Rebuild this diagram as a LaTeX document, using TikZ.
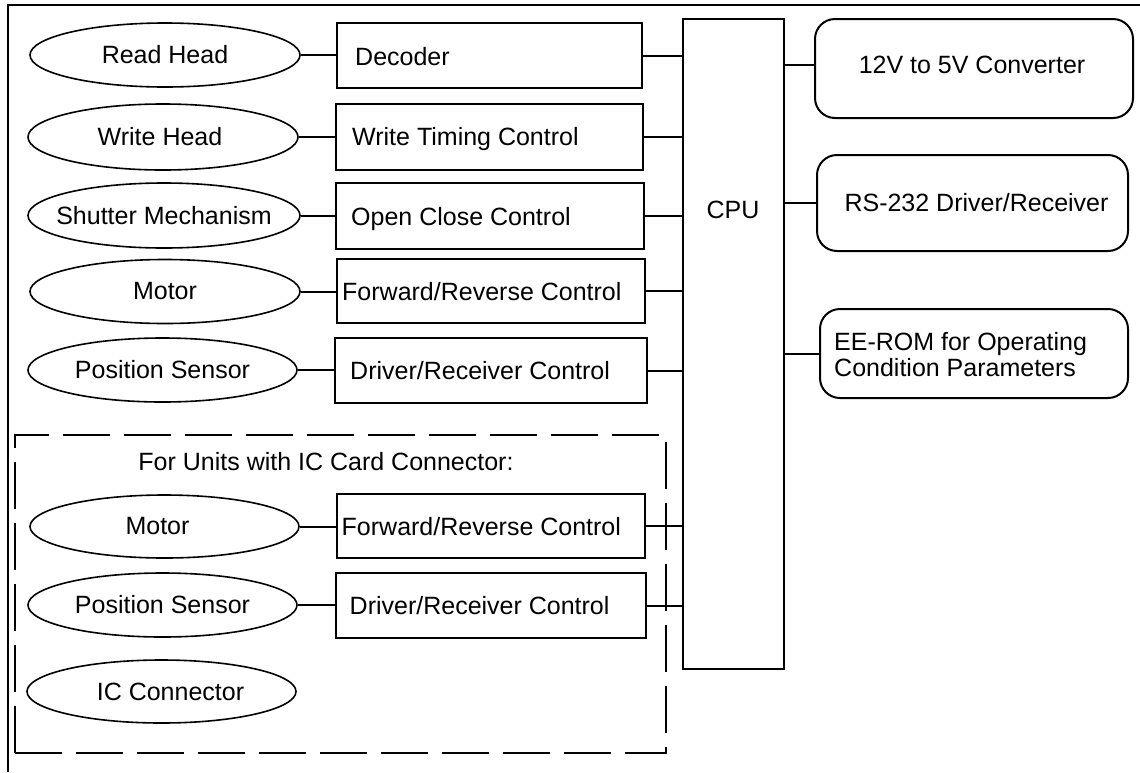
\documentclass[tikz,border=0pt]{standalone}
\usepackage{fontspec}
\setmainfont{Liberation Sans}
\usetikzlibrary{shapes.geometric}
\begin{document}
\begin{tikzpicture}[x=1pt,y=-1pt,
  every node/.style={font=\fontsize{25}{26}\selectfont},
  oval/.style={draw, ellipse, line width=1.6pt, inner sep=0pt, minimum width=270pt, minimum height=64pt},
  blk/.style={draw, rectangle, line width=2.2pt, inner sep=0pt},
  rblk/.style={draw, rectangle, rounded corners=20pt, line width=2pt, inner sep=0pt},
  lbl/.style={inner sep=0pt, anchor=base west},
  ctr/.style={inner sep=0pt},
  wire/.style={line width=2pt},
  grpbox/.style={draw, rectangle, line width=1.2pt, dash pattern=on 47pt off 14pt, inner sep=0pt},
]
\useasboundingbox (0,0) rectangle (1140,772);

% outer frame (top and left only)
\draw[line width=2.7pt] (8,772) -- (8,5) -- (1140,5);

% ellipses
\node[oval] (rh) at (165,55) {\makebox[0pt]{Read Head}};
\node[oval, minimum height=66pt] (wh) at (163,137) {\makebox[0pt]{\hspace*{-6pt}Write Head}};
\node[oval, minimum width=272pt, minimum height=65pt] (sm) at (164,215.5) {\makebox[0pt]{Shutter Mechanism}};
\node[oval] (mo) at (165,291.5) {\makebox[0pt]{Motor}};
\node[oval, minimum width=269pt] (ps) at (162.5,370) {\makebox[0pt]{Position Sensor}};
\node[oval, minimum width=269pt, minimum height=63pt] (mo2) at (164.5,526.5) {\makebox[0pt]{\hspace*{-14pt}Motor}};
\node[oval, minimum width=269pt] (ps2) at (162.5,605) {\makebox[0pt]{Position Sensor}};
\node[oval, minimum width=269pt, minimum height=63pt] (ic) at (161.5,691.5) {\makebox[0pt]{\hspace*{18pt}IC Connector}};

% control boxes
\node[blk, minimum width=305pt, minimum height=65pt] (dec) at (489.5,55.5) {};
\node[blk, minimum width=307pt, minimum height=66pt] (wtc) at (489.5,137) {};
\node[blk, minimum width=308pt, minimum height=66pt] (occ) at (490,216) {};
\node[blk, minimum width=308pt, minimum height=64pt] (frc) at (491,291) {};
\node[blk, minimum width=312pt, minimum height=65pt] (drc) at (491,370.5) {};
\node[blk, minimum width=308pt, minimum height=64pt] (frc2) at (491,526) {};
\node[blk, minimum width=310pt, minimum height=65pt] (drc2) at (491,605.5) {};

\node[lbl] (decT) at (355,65) {Decoder};
\node[lbl] (wtcT) at (352,145) {Write Timing Control};
\node[lbl] (occT) at (351,225) {Open Close Control};
\node[lbl] (frcT) at (342,300) {Forward/Reverse Control};
\node[lbl] (drcT) at (350,379.5) {Driver/Receiver Control};
\node[lbl] (frc2T) at (341.5,535) {Forward/Reverse Control};
\node[lbl] (drc2T) at (349.5,614) {Driver/Receiver Control};

% CPU
\node[blk, line width=2pt, minimum width=101pt, minimum height=650pt] (cpu) at (733.5,344) {};
\node[ctr] (cpuT) at (733,210) {CPU};

% right boxes
\node[rblk, minimum width=318pt, minimum height=99pt] (cv) at (974,68.5) {};
\node[rblk, minimum width=311pt, minimum height=96pt] (rs) at (972.5,203) {};
\node[rblk, minimum width=308pt, minimum height=89pt] (ee) at (974,353.5) {};
\node[ctr] (cvT) at (972,65) {12V to 5V Converter};
\node[ctr] (rsT) at (976.5,203) {RS-232 Driver/Receiver};
\node[inner sep=0pt, anchor=west, align=left] (eeT) at (834,355) {EE-ROM for Operating\\Condition Parameters};

% group box
\node[grpbox, minimum width=651pt, minimum height=318pt] (grp) at (340.5,594) {};
\node[ctr] (grpT) at (326,462) {For Units with IC Card Connector:};

% connectors: ellipse -> box
\foreach \e/\b in {rh/dec, wh/wtc, sm/occ, mo/frc, ps/drc, mo2/frc2, ps2/drc2}
  \draw[wire] (\e.east) -- (\e.east -| \b.west);
% connectors: box -> CPU
\foreach \b in {dec, wtc, occ, frc, drc, frc2, drc2}
  \draw[wire] (\b.east) -- (\b.east -| cpu.west);
% connectors: CPU -> right boxes
\draw[wire] (cpu.east |- cvT) -- (cvT -| cv.west);
\draw[wire] (cpu.east |- rs.west) -- (rs.west);
\draw[wire] (cpu.east |- ee.west) -- (ee.west);
\end{tikzpicture}
\end{document}
